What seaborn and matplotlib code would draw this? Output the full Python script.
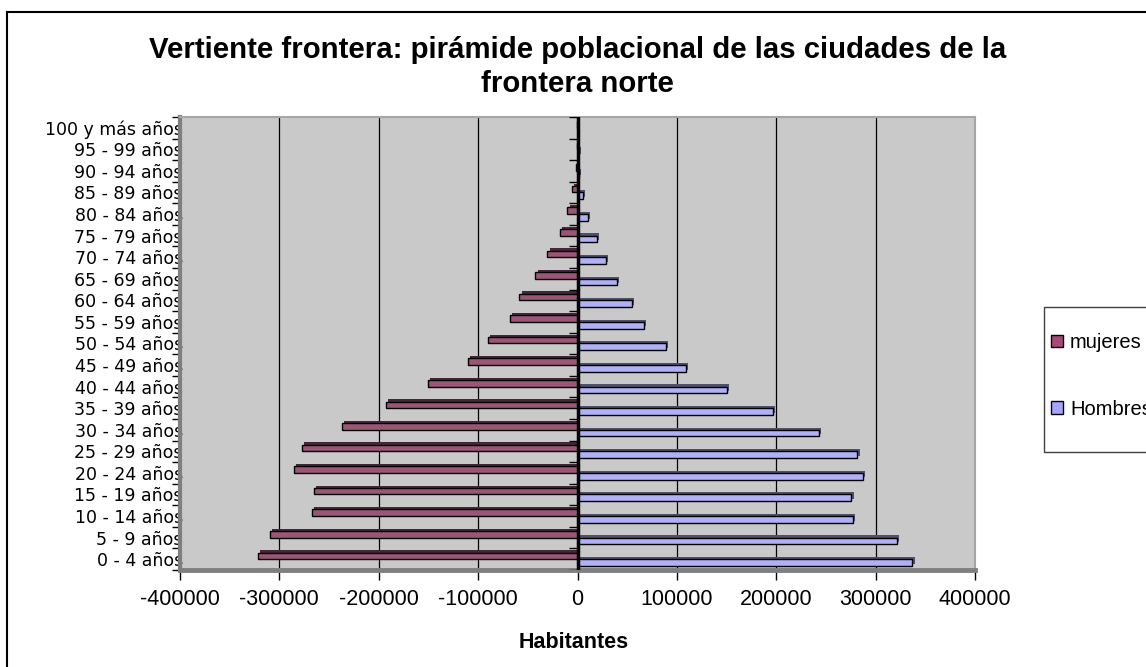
import matplotlib
matplotlib.use("Agg")
import matplotlib.pyplot as plt
import matplotlib.patheffects as pe
from matplotlib.patches import Patch, Rectangle
from matplotlib.colors import to_rgb
import numpy as np
import pandas as pd
import seaborn as sns

# grupos de edad, de abajo (0-4) hacia arriba (100+)
grupos = ["0 - 4 años", "5 - 9 años", "10 - 14 años", "15 - 19 años",
          "20 - 24 años", "25 - 29 años", "30 - 34 años", "35 - 39 años",
          "40 - 44 años", "45 - 49 años", "50 - 54 años", "55 - 59 años",
          "60 - 64 años", "65 - 69 años", "70 - 74 años", "75 - 79 años",
          "80 - 84 años", "85 - 89 años", "90 - 94 años", "95 - 99 años",
          "100 y más años"]
mujeres = [-321500, -309900, -267200, -265200, -285300, -277200, -237000,
           -192700, -150400, -110100, -89900, -68200, -58400, -42300,
           -30200, -17800, -10100, -5700, -2000, -1000, -500]
hombres = [337000, 321200, 277300, 275600, 287300, 281600, 243000,
           197000, 150700, 108800, 88600, 66800, 54400, 40000,
           28200, 19800, 10400, 5700, 1500, 800, 400]
xticks = [-400000, -300000, -200000, -100000, 0, 100000, 200000, 300000, 400000]
colores = {"mujeres": "#A64B77", "Hombres": "#A5A5FF"}

sns.set_theme(style="white")
plt.rcParams["font.family"] = ["Liberation Sans", "DejaVu Sans"]
plt.rcParams["axes.unicode_minus"] = False
plt.rcParams["text.color"] = "black"
plt.rcParams["xtick.color"] = "black"
plt.rcParams["ytick.color"] = "black"

n = len(grupos)
df = pd.DataFrame({
    "grupo": grupos * 2,
    "sexo": ["mujeres"] * n + ["Hombres"] * n,
    "habitantes": mujeres + hombres,
})
orden = grupos[::-1]

fig = plt.figure(figsize=(11.46, 6.67), dpi=100)
ax = fig.add_axes([180 / 1146, 97 / 667, 795 / 1146, 453 / 667])
ax.set_facecolor("#C9C9C9")

sns.barplot(data=df, x="habitantes", y="grupo", hue="sexo", order=orden,
            hue_order=["mujeres", "Hombres"], palette=colores, orient="h",
            width=0.62, edgecolor="black", linewidth=1, errorbar=None,
            legend=False, ax=ax)

# falso efecto 3D de Excel
for p in ax.patches:
    dark = tuple(c * 0.45 for c in to_rgb(p.get_facecolor()))
    p.set_path_effects([pe.SimplePatchShadow(offset=(1.6, 1.6), shadow_rgbFace=dark, alpha=1),
                        pe.Normal()])
    p.set_zorder(3)

ax.set_xlim(-400000, 400000)
ax.set_ylim(n - 0.5, -0.5)
ax.set_xticks(xticks)
ax.set_xticklabels([str(v) for v in xticks])
ax.grid(axis="x", color="black", lw=0.9)
ax.grid(axis="y", visible=False)
ax.set_axisbelow(True)

# eje de categorías en x=0
limites = np.arange(-0.5, n, 1)
ax.axvline(0, color="black", lw=2.5, zorder=5)
ax.hlines(limites, -9000, 0, color="black", lw=1, zorder=5)

ax.set_yticks(limites, minor=True)
ax.tick_params(axis="y", which="major", length=0, pad=-2, labelsize=12.5, left=True)
ax.tick_params(axis="y", which="minor", length=6, width=1, color="black", left=True)
for t in ax.get_yticklabels():
    t.set_fontfamily("DejaVu Sans")
ax.tick_params(axis="x", length=7, width=1, color="black", pad=7, labelsize=15.5,
               bottom=True)

ax.spines["left"].set_color("#7F7F7F")
ax.spines["left"].set_linewidth(3)
ax.spines["bottom"].set_color("#7F7F7F")
ax.spines["bottom"].set_linewidth(3.5)
for s in ["top", "right"]:
    ax.spines[s].set_color("#A6A6A6")
    ax.spines[s].set_linewidth(1.5)

ax.set_xlabel("")
ax.set_ylabel("")

fig.text(577.5 / 1146, 1 - 67 / 667,
         "Vertiente frontera: pirámide poblacional de las ciudades de la\nfrontera norte",
         ha="center", va="center", fontsize=21.2, fontweight="bold", linespacing=1.25)
fig.text(574 / 1146, 1 - 642 / 667, "Habitantes", ha="center", va="center",
         fontsize=15.5, fontweight="bold")

# leyenda: marco dibujado aparte (Excel deja poco margen a la izquierda)
fig.patches.append(Rectangle((1044 / 1146, 1 - 452 / 667), 0.2, 145 / 667,
                             transform=fig.transFigure, fc="white",
                             ec="#404040", lw=1, zorder=1))
handles = [Patch(facecolor=colores[k], edgecolor="black", lw=1, label=k)
           for k in ["mujeres", "Hombres"]]
leg = fig.legend(handles=handles, loc="center left", bbox_to_anchor=(1051 / 1146, 1 - 376 / 667),
                 frameon=False, fontsize=14.5, labelspacing=2.38, borderpad=0,
                 handlelength=0.6, handleheight=0.6, handletextpad=0.35,
                 borderaxespad=0)
leg.set_zorder(2)

fig.patches.append(Rectangle((7 / 1146, -0.02), 1.1, 1.02 - 12 / 667,
                             transform=fig.transFigure, fill=False,
                             ec="black", lw=1.5))

fig.savefig("out.png", dpi=100)
